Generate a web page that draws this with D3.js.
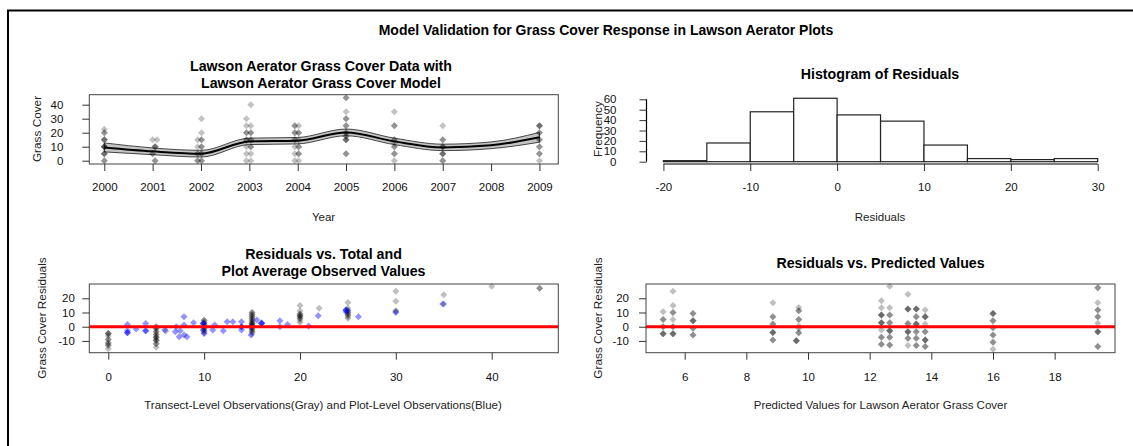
<!DOCTYPE html>
<html>
<head>
<meta charset="utf-8">
<script src="https://cdn.jsdelivr.net/npm/d3@7"></script>
<style>
  body { margin: 0; background: #fff; }
  svg { display: block; font-family: "Liberation Sans", Arial, sans-serif; }
  .tick text { fill: #111; }
</style>
</head>
<body>
<svg id="chart"></svg>
<script>
// ---- data ----

// model fit for grass cover by year (black line) and its band
var fitYears  = [2000, 2001, 2002, 2003, 2004, 2005, 2006, 2007, 2008, 2009];
var fitValues = [9.5, 6.7, 5.0, 13.8, 14.3, 20.2, 13.8, 9.5, 11.0, 16.7];
var fitLower  = [6.3, 4.3, 2.6, 11.5, 12.0, 17.8, 11.5, 7.2, 8.6, 13.2];
var fitUpper  = [12.7, 9.1, 7.4, 16.1, 16.6, 22.6, 16.1, 11.8, 13.4, 20.2];

// transect observations: [year, grass cover, number of overlapping points]
var coverObs = [
  [2000, 22.5, 1], [2000, 20, 2], [2000, 15, 3], [2000, 10, 4], [2000, 5, 3], [2000, 0, 2],
  [2001, 15, 1], [2001.09, 15, 1], [2001.05, 10, 3], [2001, 5, 2], [2001.05, 0, 2],
  [2002.01, 30, 1], [2002.01, 20, 1], [2001.93, 15, 1], [2002.01, 15, 2], [2001.93, 10, 1],
  [2002.01, 10, 2], [2001.93, 5, 2], [2002.01, 5, 2], [2001.93, 0, 2], [2002.01, 0, 2],
  [2003.03, 40, 1], [2002.94, 30, 1], [2002.94, 25, 1], [2003.03, 25, 1], [2002.94, 20, 2],
  [2003.03, 20, 2], [2002.94, 15, 2], [2003.03, 15, 2], [2002.94, 10, 1], [2003.03, 10, 2],
  [2002.94, 5, 1], [2003.03, 5, 1], [2002.94, 0, 1], [2003.03, 0, 1],
  [2003.94, 25, 2], [2004.02, 25, 1], [2003.94, 20, 2], [2004.02, 20, 2], [2003.94, 15, 2],
  [2004.02, 15, 1], [2003.94, 10, 1], [2004.02, 10, 2], [2003.94, 5, 1], [2004.02, 5, 2],
  [2003.94, 0, 1], [2004.02, 0, 1],
  [2005, 45, 2], [2005, 35, 1], [2005, 30, 2], [2005, 25, 2], [2005, 20, 2], [2005, 17.5, 2],
  [2005, 15, 3], [2005, 5, 2],
  [2006, 35, 1], [2006, 25, 2], [2006, 15, 2], [2006, 12.5, 1], [2006, 10, 2], [2006, 5, 2], [2006, 0, 1],
  [2007, 25, 1], [2007, 15, 2], [2007, 10, 3], [2007, 5, 3], [2007, 0, 2],
  [2009, 25, 3], [2009, 20, 2], [2009, 15, 2], [2009, 10, 2], [2009, 5, 2], [2009, 0, 1]
];

// histogram of residuals
var histBreaks = [-20, -15, -10, -5, 0, 5, 10, 15, 20, 25, 30];
var histCounts = [1, 18, 48, 61, 45, 39, 16, 3, 2, 3];

// residuals vs transect-level observed values (gray): [observed, residual, n]
var transectResid = [
  [0, -4.8, 3], [0, -6.5, 1], [0, -9, 2], [0, -11.5, 2], [0, -13, 2], [0, -15.5, 1],
  [5, 0, 2], [5, -1.5, 2], [5, -3.5, 2], [5, -5.5, 2], [5, -7.5, 3], [5, -9.5, 3], [5, -12, 2], [5, -14.5, 1],
  [6, -3, 1],
  [10, 4.5, 2], [10, 3, 2], [10, 1.5, 2], [10, 0, 2], [10, -1.5, 2], [10, -3, 2], [10, -4.5, 1],
  [15, 10, 2], [15, 8.5, 2], [15, 7, 2], [15, 5.5, 2], [15, 4, 2], [15, 2.5, 3], [15, 1, 3],
  [15, -0.5, 2], [15, -2, 2], [15, -3.5, 2], [15, -5, 1],
  [20, 15, 1], [20, 11, 1], [20, 9, 2], [20, 7.5, 3], [20, 6, 2], [20, 4.5, 1], [20, 3, 1],
  [22, 13, 1],
  [25, 17, 1], [25, 13, 1], [25, 11.5, 2], [25, 10, 2], [25, 8.5, 2], [25, 7, 1], [25, 6, 1],
  [30, 25, 1], [30, 18, 1], [30, 11, 2],
  [35, 22.5, 1], [35, 16, 1],
  [40, 28.5, 1],
  [45, 27, 2]
];

// residuals vs plot-average observed values (blue): [observed, residual, n]
var plotResid = [
  [2, 1.5, 1], [2, -2.8, 1], [2, -4.2, 2], [2.9, -1.6, 1], [3.9, 2.3, 1], [3.9, -2.8, 2],
  [5.9, -2.3, 1], [7, -3.5, 1], [7.1, 0, 1], [7.4, -7, 1], [7.5, -2.8, 1], [7.9, 7, 1],
  [7.9, 1.2, 1], [7.9, -5.8, 1], [8.2, -7, 1], [8.9, 2.8, 1], [9.9, 2.3, 2], [9.9, -2.3, 1],
  [10, -4.7, 1], [10.9, -2.3, 1], [11.1, 1.2, 1], [12, -2.8, 1], [12.4, 3.5, 1], [13, 3.5, 1],
  [13.9, 3.5, 1], [13.9, 0, 2], [13.9, -2.3, 1], [14.9, -5.8, 1], [14.9, 0, 1], [15.5, 4.7, 1],
  [16, 2.3, 2], [16, 2.8, 1], [17.9, 4.2, 1], [17.9, 0, 1], [18.7, 1.6, 1], [20.9, 0.5, 1],
  [21.9, 7.7, 1], [24.8, 11.7, 2], [24.8, 10.5, 1], [26.1, 7, 1], [30, 10, 1], [34.9, 16, 1]
];

// residuals vs predicted values: [predicted, residual, n]
var predResid = [
  [5.3, 10.5, 1], [5.3, 5, 2], [5.3, 0, 2], [5.3, -5, 3],
  [5.62, 25, 1], [5.62, 15, 1], [5.62, 10, 2], [5.62, 5, 1], [5.62, 0, 2], [5.62, -5, 3],
  [6.27, 9.3, 2], [6.27, 4.2, 3], [6.27, -1, 2], [6.27, -5.8, 2],
  [8.86, 16.8, 1], [8.86, 7, 2], [8.86, 1.9, 2], [8.86, -4, 3], [8.86, -9.3, 2],
  [9.62, -9.8, 3],
  [9.7, 13.5, 1], [9.7, 11.2, 2], [9.7, 5.1, 2], [9.7, 0.5, 1], [9.7, -1.2, 1], [9.7, -4.2, 2],
  [12.38, 18.2, 1], [12.38, 13.3, 1], [12.38, 8.2, 3], [12.38, 2.8, 3], [12.38, -2.3, 1], [12.38, -7.5, 2], [12.38, -12.4, 2],
  [12.65, 28.4, 1], [12.65, 13.3, 1], [12.65, 8.2, 2], [12.65, 2.8, 2], [12.65, -2.8, 3], [12.65, -7.5, 2], [12.65, -12.8, 2],
  [13.24, 22.8, 1], [13.24, 12.4, 3], [13.24, 2.3, 2], [13.24, -3.5, 3], [13.24, -8.2, 2], [13.24, -13.3, 1],
  [13.51, 12.4, 3], [13.51, 7, 2], [13.51, 1.9, 3], [13.51, -3.5, 2], [13.51, -8.2, 2], [13.51, -13.3, 2],
  [13.8, 11.7, 1], [13.8, 7, 3], [13.8, 1.9, 1], [13.8, -3.5, 2], [13.8, -9.3, 3], [13.8, -14, 2],
  [16, 9.3, 3], [16, 4.2, 2], [16, -0.7, 2], [16, -5.8, 2], [16, -11, 2], [16, -15.9, 1],
  [19.4, 27.5, 2], [19.4, 16.8, 1], [19.4, 11.7, 2], [19.4, 7, 2], [19.4, 2.4, 1], [19.4, -3.5, 3], [19.4, -14, 2]
];

// tick values
var yearTicks = [2000, 2001, 2002, 2003, 2004, 2005, 2006, 2007, 2008, 2009];
var coverTicks = [0, 10, 20, 30, 40];
var freqTicks = [0, 10, 20, 30, 40, 50, 60];
var residBinTicks = [-20, -10, 0, 10, 20, 30];
var obsTicks = [0, 10, 20, 30, 40];
var predTicks = [6, 8, 10, 12, 14, 16, 18];
var residTicks = [-10, 0, 10, 20];

var mainTitle = 'Model Validation for Grass Cover Response in Lawson Aerator Plots';

// ---- drawing ----
var svgWidth = 1133, svgHeight = 446;
var svg = d3.select('#chart').attr('width', svgWidth).attr('height', svgHeight);
svg.append('rect').attr('width', svgWidth).attr('height', svgHeight).attr('fill', '#fff');

// outer frame (only top and left visible)
svg.append('path')
  .attr('d', 'M8,446V10.5H1133')
  .attr('fill', 'none').attr('stroke', '#000').attr('stroke-width', 2);

svg.append('text')
  .attr('x', 606).attr('y', 35)
  .attr('text-anchor', 'middle')
  .attr('font-size', 14).attr('font-weight', 'bold')
  .text(mainTitle);

var diamond = 'M0,-3.5L3.5,0L0,3.5L-3.5,0Z';

function expand(rows) {
  return rows.flatMap(function(d) { return d3.range(d[2]).map(function() { return d; }); });
}

function title(lines, cx, y) {
  var t = svg.append('text')
    .attr('text-anchor', 'middle')
    .attr('font-size', 14.2).attr('font-weight', 'bold');
  lines.forEach(function(s, i) {
    t.append('tspan').attr('x', cx).attr('y', y + i * 16.5).text(s);
  });
}

function yTitle(s, x, cy) {
  svg.append('text')
    .attr('transform', 'translate(' + x + ',' + cy + ') rotate(-90)')
    .attr('text-anchor', 'middle')
    .attr('dy', '0.35em')
    .attr('font-size', 11.8).attr('fill', '#222')
    .text(s);
}

function xTitle(s, cx, cy) {
  svg.append('text')
    .attr('x', cx).attr('y', cy).attr('dy', '0.35em')
    .attr('text-anchor', 'middle')
    .attr('font-size', 11.5).attr('fill', '#222')
    .text(s);
}

function box(x, y) {
  svg.append('rect')
    .attr('x', x.range()[0]).attr('y', y.range()[1])
    .attr('width', x.range()[1] - x.range()[0])
    .attr('height', y.range()[0] - y.range()[1])
    .attr('fill', 'none').attr('stroke', '#444').attr('stroke-width', 1);
}

function axes(x, y, xTicks, yTicks, xAt, yAt, yPad, xPad) {
  var gx = svg.append('g')
    .attr('transform', 'translate(0,' + xAt + ')')
    .call(d3.axisBottom(x).tickValues(xTicks).tickFormat(String)
      .tickSize(7).tickPadding(xPad));
  gx.select('.domain').remove();
  var gy = svg.append('g')
    .attr('transform', 'translate(' + yAt + ',0)')
    .call(d3.axisLeft(y).tickValues(yTicks).tickFormat(String)
      .tickSize(7).tickPadding(yPad));
  gy.select('.domain').remove();
  svg.selectAll('.tick text').attr('font-size', 11.5).attr('font-family', null);
  svg.selectAll('.tick line').attr('stroke', '#333');
  return [gx, gy];
}

function drawPoints(rows, x, y, color, alpha) {
  svg.append('g').selectAll('path')
    .data(expand(rows))
    .join('path')
    .attr('transform', function(d) { return 'translate(' + x(d[0]) + ',' + y(d[1]) + ')'; })
    .attr('d', diamond)
    .attr('fill', color).attr('fill-opacity', alpha);
}

// --- top left: data with model ---
(function() {
  var x = d3.scaleLinear().domain([1999.69, 2009.39]).range([89.3, 558.3]);
  var y = d3.scaleLinear().domain([-2.36, 47.14]).range([164, 94.7]);

  var fit = fitYears.map(function(yr, i) {
    return { year: yr, fit: fitValues[i], lo: fitLower[i], hi: fitUpper[i] };
  });
  var band = d3.area()
    .x(function(d) { return x(d.year); })
    .y0(function(d) { return y(d.lo); })
    .y1(function(d) { return y(d.hi); })
    .curve(d3.curveMonotoneX);
  svg.append('path').datum(fit)
    .attr('d', band)
    .attr('fill', '#c4c4c4').attr('stroke', '#333').attr('stroke-width', 0.9);

  drawPoints(coverObs, x, y, '#000', 0.24);

  var line = d3.line()
    .x(function(d) { return x(d.year); })
    .y(function(d) { return y(d.fit); })
    .curve(d3.curveMonotoneX);
  svg.append('path').datum(fit)
    .attr('d', line)
    .attr('fill', 'none').attr('stroke', '#000').attr('stroke-width', 2);

  box(x, y);
  axes(x, y, yearTicks, coverTicks, 164, 89.3, 19, 12);
  title(['Lawson Aerator Grass Cover Data with', 'Lawson Aerator Grass Cover Model'], 321, 71);
  yTitle('Grass Cover', 36.5, 129);
  xTitle('Year', 323.5, 217);
})();

// --- top right: histogram ---
(function() {
  var x = d3.scaleLinear().domain([-20, 30]).range([663.4, 1097.7]);
  var y = d3.scaleLinear().domain([0, 60]).range([161.7, 99.3]);
  var bins = histCounts.map(function(c, i) { return { x0: histBreaks[i], x1: histBreaks[i + 1], n: c }; });

  svg.append('g').selectAll('rect')
    .data(bins)
    .join('rect')
    .attr('x', function(d) { return x(d.x0); })
    .attr('y', function(d) { return y(d.n); })
    .attr('width', function(d) { return x(d.x1) - x(d.x0); })
    .attr('height', function(d) { return y(0) - y(d.n); })
    .attr('fill', '#fff').attr('stroke', '#222').attr('stroke-width', 1.2);

  var g = axes(x, y, residBinTicks, freqTicks, 164, 646.5, 23, 12);
  g[0].append('line')
    .attr('x1', x(-20)).attr('x2', x(30))
    .attr('stroke', '#000').attr('stroke-width', 1.2);
  g[1].append('line')
    .attr('y1', y(0)).attr('y2', y(60))
    .attr('stroke', '#000').attr('stroke-width', 1.2);

  title(['Histogram of Residuals'], 880, 79);
  yTitle('Frequency', 597.5, 129);
  xTitle('Residuals', 880, 217);
})();

// --- bottom left: residuals vs observed ---
(function() {
  var x = d3.scaleLinear().domain([-1.98, 46.95]).range([89.3, 558.3]);
  var y = d3.scaleLinear().domain([-18.3, 30.07]).range([352.7, 284]);

  drawPoints(transectResid, x, y, '#000', 0.25);
  drawPoints(plotResid, x, y, '#0000ff', 0.42);

  svg.append('line')
    .attr('x1', x.range()[0]).attr('x2', x.range()[1])
    .attr('y1', y(0)).attr('y2', y(0))
    .attr('stroke', '#ff0000').attr('stroke-width', 3);

  box(x, y);
  axes(x, y, obsTicks, residTicks, 352.7, 89.3, 7.5, 13);
  title(['Residuals vs. Total and', 'Plot Average Observed Values'], 323.5, 259);
  yTitle('Grass Cover Residuals', 42, 318);
  xTitle('Transect-Level Observations(Gray) and Plot-Level Observations(Blue)', 323, 405);
})();

// --- bottom right: residuals vs predicted ---
(function() {
  var x = d3.scaleLinear().domain([4.745, 19.957]).range([646, 1115]);
  var y = d3.scaleLinear().domain([-18.3, 30.07]).range([352.7, 284]);

  drawPoints(predResid, x, y, '#000', 0.25);

  svg.append('line')
    .attr('x1', x.range()[0]).attr('x2', x.range()[1])
    .attr('y1', y(0)).attr('y2', y(0))
    .attr('stroke', '#ff0000').attr('stroke-width', 3);

  box(x, y);
  axes(x, y, predTicks, residTicks, 352.7, 646, 10, 13);
  title(['Residuals vs. Predicted Values'], 880.5, 268);
  yTitle('Grass Cover Residuals', 597.5, 318);
  xTitle('Predicted Values for Lawson Aerator Grass Cover', 880.5, 405);
})();
</script>
</body>
</html>
